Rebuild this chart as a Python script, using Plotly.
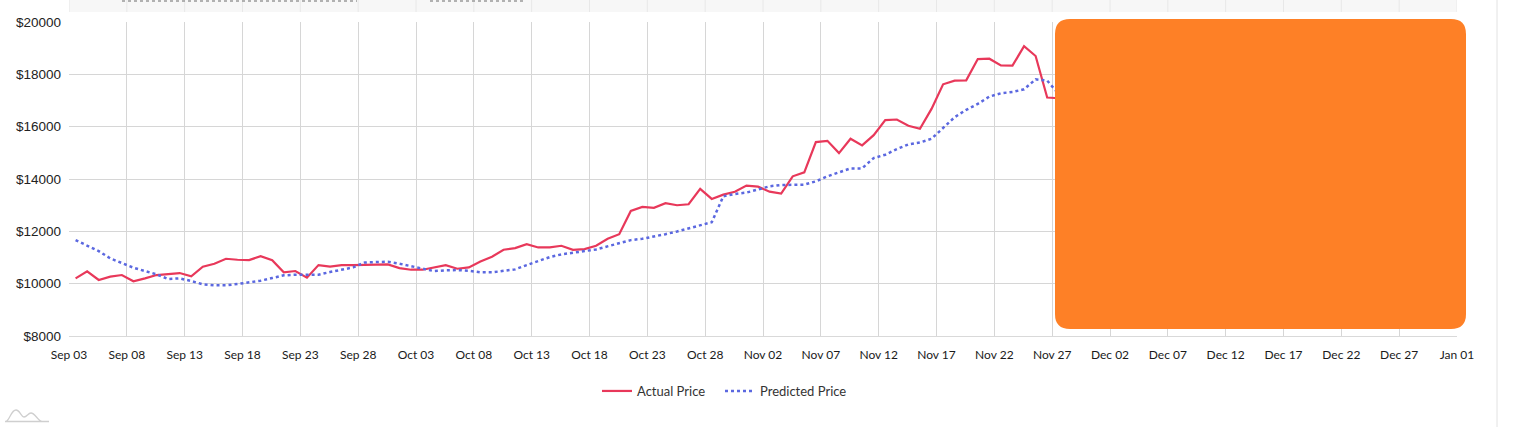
import pandas as pd
import plotly.graph_objects as go

# ---------------- data ----------------
start_date = "2020-09-03 13:40"

actual_price = [
    10203, 10470, 10140, 10267, 10330, 10089, 10203, 10330, 10368, 10406,  # Sep 03-12
    10279, 10648, 10762, 10952, 10914, 10900, 11054, 10900, 10432, 10483,  # Sep 13-22
    10229, 10711, 10648, 10709, 10709, 10720, 10735, 10735,                # Sep 23-30
    10594, 10533, 10533, 10620, 10709, 10570, 10622, 10851, 11029, 11295,  # Oct 01-10
    11359, 11511, 11384, 11384, 11448, 11295, 11321, 11448, 11715, 11892,  # Oct 11-20
    12781, 12934, 12896, 13073, 12997, 13035, 13620, 13239, 13404, 13510,  # Oct 21-30
    13746,                                                                 # Oct 31
    13708, 13517, 13441, 14102, 14254, 15410, 15460, 14990, 15537, 15283,  # Nov 01-10
    15676, 16248, 16273, 16032, 15918, 16680, 17620, 17759, 17772, 18585,  # Nov 11-20
    18597, 18343, 18331, 19080, 18699, 17112, 17086,                       # Nov 21-27
]

predicted_price = [
    11664, 11460, 11245, 10965, 10800, 10610, 10483, 10356, 10178, 10203,  # Sep 03-12
    10100, 9975, 9937, 9937, 9987, 10038, 10114, 10216, 10318, 10343,      # Sep 13-22
    10330, 10343, 10445, 10545, 10621, 10811, 10838, 10838,                # Sep 23-30
    10762, 10659, 10583, 10480, 10510, 10520, 10495, 10432, 10432, 10495,  # Oct 01-10
    10546, 10711, 10851, 11016, 11118, 11168, 11245, 11308, 11435, 11562,  # Oct 11-20
    11664, 11715, 11791, 11892, 11994, 12121, 12248, 12349, 13340, 13429,  # Oct 21-30
    13480,                                                                 # Oct 31
    13594, 13721, 13771, 13771, 13784, 13911, 14102, 14254, 14406, 14406,  # Nov 01-10
    14800, 14927, 15143, 15321, 15397, 15537, 15943, 16362, 16642, 16870,  # Nov 11-20
    17150, 17277, 17327, 17429, 17810, 17759, 17250,                       # Nov 21-27
]

series_names = ["Actual Price", "Predicted Price"]
y_ticks = [8000, 10000, 12000, 14000, 16000, 18000, 20000]
y_tick_labels = ["$" + str(v) for v in y_ticks]
x_range = ["2020-09-03", "2021-01-01"]

dates = pd.date_range(start=start_date, periods=len(actual_price), freq="D")

# ---------------- figure ----------------
W, H = 1514, 427
L, R, T, B = 69, 1457, 22, 336  # plot area in pixels


def px2x(px):
    return (px - L) / (R - L)


def px2y(py):
    return (B - py) / (B - T)


fig = go.Figure()
fig.add_trace(go.Scatter(
    x=dates, y=actual_price, name=series_names[0], mode="lines",
    line=dict(color="#e8385a", width=2.2), legend="legend",
))
fig.add_trace(go.Scatter(
    x=dates, y=predicted_price, name=series_names[1], mode="lines",
    line=dict(color="#5b68e0", width=2.5, dash="dot"), legend="legend2",
))

grid_col = "#d6d6d6"
leg_font = dict(family="Lato", size=13, color="#333333")
fig.update_layout(
    width=W, height=H,
    margin=dict(l=L, r=W - R, t=T, b=H - B, pad=0),
    paper_bgcolor="white", plot_bgcolor="white",
    showlegend=True,
    legend=dict(
        orientation="h", x=px2x(597), y=px2y(376), xanchor="left", yanchor="top",
        font=leg_font, bgcolor="rgba(0,0,0,0)", itemwidth=30,
    ),
    legend2=dict(
        orientation="h", x=px2x(720), y=px2y(376), xanchor="left", yanchor="top",
        font=leg_font, bgcolor="rgba(0,0,0,0)", itemwidth=30,
    ),
    xaxis=dict(
        type="date", range=x_range, tick0="2020-09-03", dtick=5 * 86400000,
        tickformat="%b %d", showgrid=True, gridcolor=grid_col, gridwidth=1,
        showline=True, linecolor="#d9d9d9", linewidth=1, zeroline=False,
        ticks="", ticklabelstandoff=8,
        tickfont=dict(family="Lato", size=12, color="#1a1a1a"),
    ),
    yaxis=dict(
        range=[8000, 20000], tickmode="array", tickvals=y_ticks, ticktext=y_tick_labels,
        showgrid=True, gridcolor=grid_col, gridwidth=1, zeroline=False,
        showline=False, ticks="", ticklabelstandoff=7,
        tickfont=dict(family="Liberation Sans", size=13.5, color="#222222"),
    ),
)

shapes = []
# top grey band (edge of another chart above)
shapes.append(dict(type="rect", xref="paper", yref="paper",
                   x0=px2x(L), x1=px2x(R), y0=px2y(12), y1=px2y(0),
                   fillcolor="#f7f7f7", line=dict(width=0), layer="below"))
for k in range(25):
    d = pd.Timestamp("2020-09-03") + pd.Timedelta(days=5 * k)
    shapes.append(dict(type="line", xref="x", yref="paper",
                       x0=d, x1=d, y0=px2y(12), y1=px2y(0),
                       line=dict(color="#e8e8e8", width=1)))
shapes.append(dict(type="line", xref="paper", yref="paper",
                   x0=px2x(122), x1=px2x(357), y0=px2y(1), y1=px2y(1),
                   line=dict(color="#9a9a9a", width=1.5, dash="dot")))
shapes.append(dict(type="line", xref="paper", yref="paper",
                   x0=px2x(430), x1=px2x(525), y0=px2y(1), y1=px2y(1),
                   line=dict(color="#9a9a9a", width=1.5, dash="dot")))

# orange rounded box overlay
x0, x1, y0, y1, r = 1055, 1466, 19, 329, 15


def P(px, py):
    return f"{px2x(px):.6f},{px2y(py):.6f}"


path = (f"M {P(x0 + r, y0)} L {P(x1 - r, y0)} Q {P(x1, y0)} {P(x1, y0 + r)} "
        f"L {P(x1, y1 - r)} Q {P(x1, y1)} {P(x1 - r, y1)} "
        f"L {P(x0 + r, y1)} Q {P(x0, y1)} {P(x0, y1 - r)} "
        f"L {P(x0, y0 + r)} Q {P(x0, y0)} {P(x0 + r, y0)} Z")
shapes.append(dict(type="path", xref="paper", yref="paper", path=path,
                   fillcolor="#fe8026", line=dict(width=0), layer="above"))

# right page separator
shapes.append(dict(type="line", xref="paper", yref="paper",
                   x0=px2x(1497), x1=px2x(1497), y0=px2y(427), y1=px2y(0),
                   line=dict(color="#e2e2e2", width=1)))

# small mountain icon bottom-left
icon = (f"M {P(5, 421.5)} L {P(49, 421.5)} "
        f"M {P(6, 421.5)} C {P(10, 420)} {P(11, 410)} {P(16, 410)} "
        f"C {P(20, 410)} {P(21, 417)} {P(24, 417)} "
        f"C {P(27, 417)} {P(28, 413)} {P(31, 413)} "
        f"C {P(35, 413)} {P(38, 421)} {P(42, 421.5)}")
shapes.append(dict(type="path", xref="paper", yref="paper", path=icon,
                   line=dict(color="#cfcfcf", width=1.3)))

fig.update_layout(shapes=shapes)

fig.write_html("out.html", config={"displayModeBar": False},
               post_script="document.body.style.margin='0';")
